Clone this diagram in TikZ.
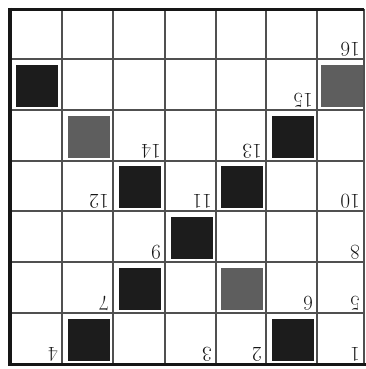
\documentclass[tikz,border=0pt]{standalone}
\usepackage{tikz}
\usetikzlibrary{positioning}
\definecolor{GridInk}{HTML}{505050}
\definecolor{BorderInk}{HTML}{161616}
\definecolor{DarkCell}{HTML}{1C1C1C}
\definecolor{GrayCell}{HTML}{5E5E5E}
\tikzset{
    % Cell styles
    darkcell/.style={
        rectangle,
        draw=none,
        fill=DarkCell,
        minimum size=42pt,
        inner sep=0pt
    },
    graycell/.style={
        rectangle,
        draw=none,
        fill=GrayCell,
        minimum size=42pt,
        inner sep=0pt
    },
    % Number style (printed upside down)
    cellnum/.style={
        rotate=180,
        anchor=north west,
        inner sep=0pt,
        text=BorderInk,
        font=\fontsize{21}{21}\selectfont
    },
    % Line styles
    gridline/.style={
        draw=GridInk,
        line width=1.2pt
    },
    borderline/.style={
        draw=BorderInk,
        line width=3.5pt
    },
    sideline/.style={
        draw=GridInk,
        line width=1.2pt
    }
}
\def\xs{{10,62,113,165,216,266,317,364}}
\def\ys{{9,59,110,161,211,262,313,364}}
\begin{document}
\begin{tikzpicture}[x=1pt, y=-1pt]
    \useasboundingbox (0,0) rectangle (366,369);

    % Grid lines
    \foreach \x in {62,113,165,216,266,317}
        \draw[gridline] (\x,9) -- (\x,364);
    \foreach \y in {59,110,161,211,262,313}
        \draw[gridline] (10,\y) -- (364,\y);

    % Filled cells
    \foreach \c/\r/\s in {0/1/darkcell, 6/1/graycell, 1/2/graycell, 5/2/darkcell,
                          2/3/darkcell, 4/3/darkcell, 3/4/darkcell, 2/5/darkcell,
                          4/5/graycell, 1/6/darkcell, 5/6/darkcell} {
        \pgfmathtruncatemacro\cn{\c+1}
        \pgfmathtruncatemacro\rn{\r+1}
        \pgfmathsetmacro\xl{\xs[\c]}
        \pgfmathsetmacro\xr{\xs[\cn]}
        \pgfmathsetmacro\yt{\ys[\r]}
        \pgfmathsetmacro\yb{\ys[\rn]}
        \node[\s] (sq-\c-\r) at ({(\xl+\xr)/2+1},{(\yt+\yb)/2+1}) {};
    }

    % Cell numbers
    \foreach \n/\c/\r in {16/6/0, 15/5/1, 14/2/2, 13/4/2, 12/1/3, 11/3/3, 10/6/3,
                          9/2/4, 8/6/4, 7/1/5, 6/5/5, 5/6/5, 4/0/6, 3/3/6, 2/4/6, 1/6/6} {
        \pgfmathtruncatemacro\cn{\c+1}
        \pgfmathtruncatemacro\rn{\r+1}
        \pgfmathsetmacro\xr{\xs[\cn]}
        \pgfmathsetmacro\yb{\ys[\rn]}
        \node[cellnum] (num-\n) at ({\xr-4},{\yb-2}) {\n};
    }

    % Border
    \draw[sideline] (364,9) -- (364,364);
    \draw[borderline] (8,9.5) -- (364,9.5);
    \draw[borderline] (10,8) -- (10,365);
    \draw[borderline] (8,364.5) -- (366,364.5);
\end{tikzpicture}
\end{document}
